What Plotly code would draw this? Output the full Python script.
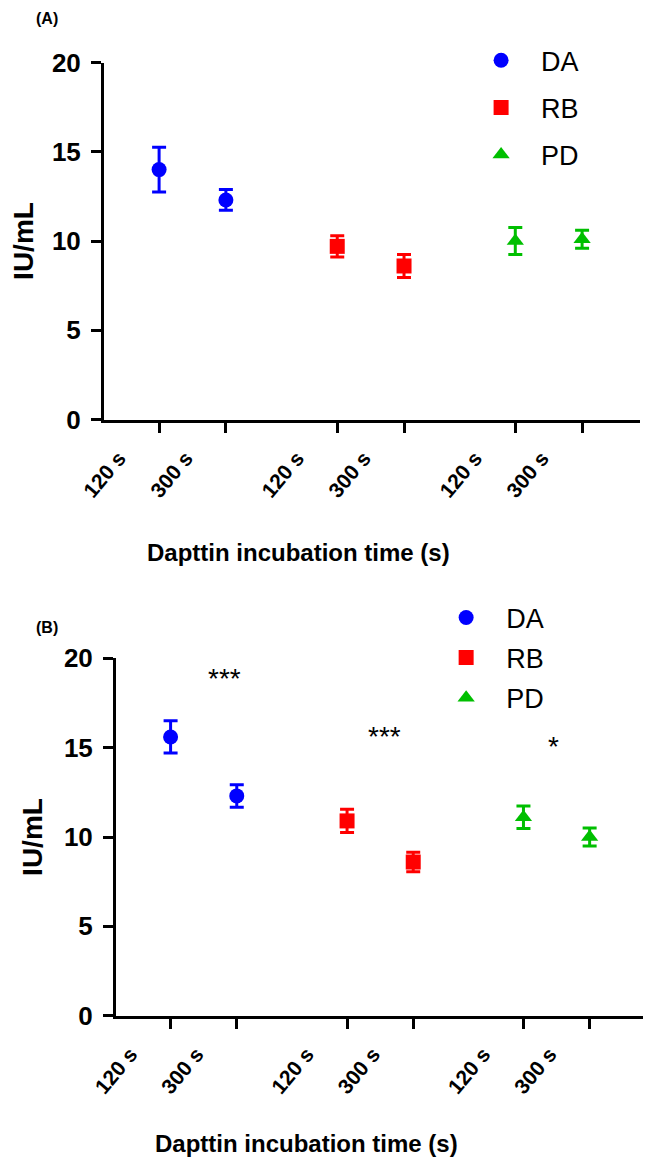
import plotly.graph_objects as go

# ---------------- data ----------------
groups = ["DA", "RB", "PD"]
times = ["120 s", "300 s"]

a_da = [14.0, 12.3]
a_da_err = [1.25, 0.58]
a_rb = [9.7, 8.6]
a_rb_err = [0.6, 0.65]
a_pd = [10.0, 10.1]
a_pd_err = [0.75, 0.5]

b_da = [15.6, 12.3]
b_da_err = [0.9, 0.63]
b_rb = [10.9, 8.6]
b_rb_err = [0.65, 0.55]
b_pd = [11.1, 10.0]
b_pd_err = [0.63, 0.5]

sig_labels = ["***", "***", "*"]
sig_x = [1.81, 4.23, 6.78]
sig_y = [18.85, 15.65, 15.05]

# ---------------- layout helpers ----------------
W, H = 651, 1163
OFF = 8  # page body margin

def px_x(v):
    return (v - OFF) / W

def px_y(v):
    return 1 - (v - OFF) / H

pos = {"DA": [1.0, 2.0], "RB": [3.667, 4.667], "PD": [6.333, 7.333]}
colors = {"DA": "#0000FF", "RB": "#FF0000", "PD": "#00BF00"}
symbols = {"DA": "circle", "RB": "square", "PD": "triangle-up"}
FONT = "Liberation Sans, Arial, sans-serif"

fig = go.Figure()

def add_panel(vals, errs, xa, ya, leg, tag):
    for g in groups:
        fig.add_trace(go.Scatter(
            x=pos[g], y=vals[g], mode="markers", name=g,
            xaxis=xa, yaxis=ya, legend=leg, legendgroup=g + tag,
            marker=dict(symbol=symbols[g], size=15, color=colors[g]),
            error_y=dict(type="data", array=errs[g], color=colors[g],
                         thickness=3, width=7),
            cliponaxis=False,
        ))

add_panel({"DA": a_da, "RB": a_rb, "PD": a_pd},
          {"DA": a_da_err, "RB": a_rb_err, "PD": a_pd_err}, "x", "y", "legend", "A")
add_panel({"DA": b_da, "RB": b_rb, "PD": b_pd},
          {"DA": b_da_err, "RB": b_rb_err, "PD": b_pd_err}, "x2", "y2", "legend2", "B")

tickpos = pos["DA"] + pos["RB"] + pos["PD"]
ticktext = times * 3

axis_common = dict(showline=True, linewidth=3, linecolor="black",
                   ticks="outside", ticklen=10, tickwidth=3, tickcolor="black",
                   showgrid=False, zeroline=False, automargin=False)

xcommon = dict(axis_common, range=[0.175, 8.2], tickvals=tickpos, ticktext=ticktext,
               tickangle=-50, ticklabelshift=-40, ticklabelstandoff=5,
               tickfont=dict(family=FONT, size=21, color="black", weight="bold"))
ycommon = dict(axis_common, range=[0, 20], tickvals=[0, 5, 10, 15, 20],
               ticklabelstandoff=5,
               tickfont=dict(family=FONT, size=26, color="black", weight="bold"),
               title=dict(text="IU/mL", standoff=14,
                          font=dict(family=FONT, size=28, color="black", weight="bold")))

legfont = dict(family=FONT, size=27, color="black")
fig.update_layout(
    width=W, height=H,
    margin=dict(l=0, r=0, t=0, b=0, autoexpand=False),
    paper_bgcolor="white", plot_bgcolor="white",
    xaxis=dict(xcommon, domain=[px_x(104), px_x(640)], anchor="y"),
    yaxis=dict(ycommon, domain=[px_y(419.5), px_y(62.5)], anchor="x"),
    xaxis2=dict(xcommon, domain=[px_x(116), px_x(647)], anchor="y2"),
    yaxis2=dict(ycommon, domain=[px_y(1015.7), px_y(658.3)], anchor="x2"),
    legend=dict(x=0.696, y=0.9757, xanchor="left", yanchor="top", font=legfont,
                itemwidth=70, tracegroupgap=9, traceorder="grouped",
                bgcolor="rgba(0,0,0,0)"),
    legend2=dict(x=0.6423, y=0.4966, xanchor="left", yanchor="top", font=legfont,
                 itemwidth=70, tracegroupgap=2, traceorder="grouped",
                 bgcolor="rgba(0,0,0,0)"),
    showlegend=True,
)

def ann(text, xv, yv, size, bold=True):
    return dict(text=text, x=px_x(xv), y=px_y(yv), xref="paper", yref="paper",
                xanchor="center", yanchor="middle", showarrow=False,
                font=dict(family=FONT, size=size, color="black",
                          weight="bold" if bold else "normal"))

annotations = [
    ann("(A)", 47, 18, 16),
    ann("(B)", 47, 627, 16),
    ann("Dapttin incubation time (s)", 298.5, 552, 24),
    ann("Dapttin incubation time (s)", 306, 1143, 24),
]
for t, xv, yv in zip(sig_labels, sig_x, sig_y):
    annotations.append(dict(text=t, x=xv, y=yv, xref="x2", yref="y2", showarrow=False,
                            font=dict(family=FONT, size=28, color="black")))
fig.update_layout(annotations=annotations)

fig.write_html("out.html")
